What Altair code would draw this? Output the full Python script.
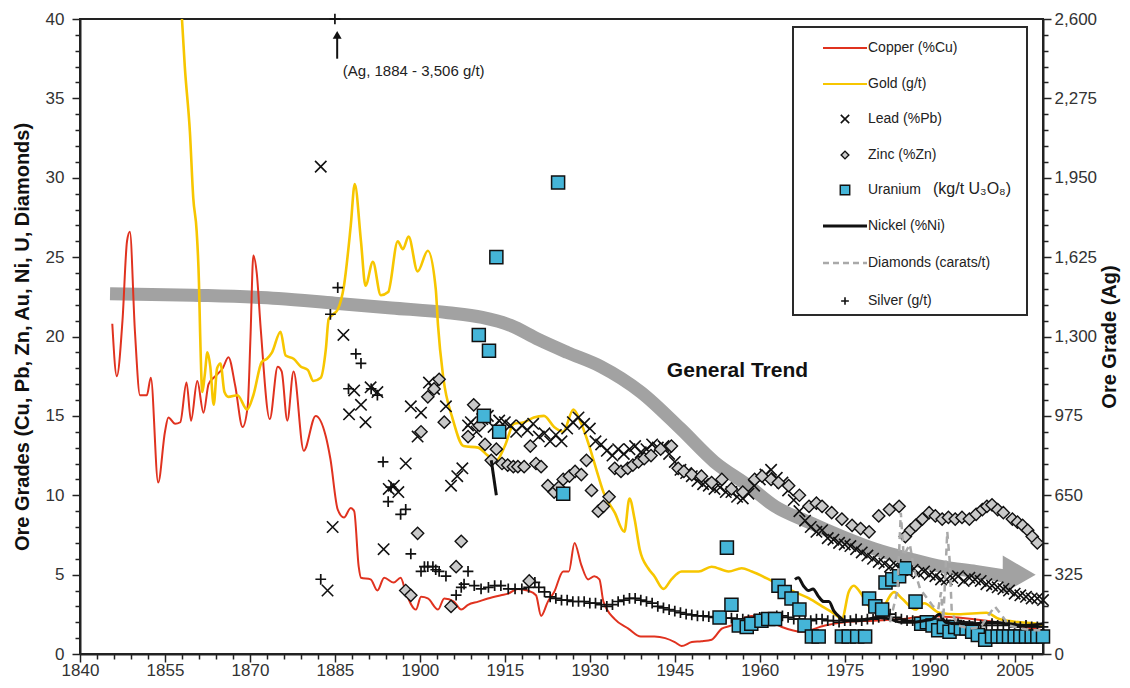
import altair as alt
import pandas as pd

# ---------------- data ----------------
copper_year = [1845.7, 1846.5, 1847.5, 1848.3, 1848.8, 1849.7, 1850.6, 1851.8, 1852.5, 1853.8,
               1855.0, 1855.6, 1856.8, 1857.7, 1858.8, 1859.6, 1860.7, 1861.8, 1862.7, 1863.9,
               1865.2, 1866.2, 1867.4, 1868.7, 1869.6, 1870.1, 1870.6, 1871.2, 1871.9, 1873.5,
               1874.9, 1875.6, 1876.6, 1877.7, 1879.5, 1881.6, 1883.4, 1884.2, 1885.5, 1886.6,
               1887.8, 1888.4, 1889.2, 1889.6, 1891.3, 1892.5, 1893.7, 1895.4, 1896.6, 1897.5,
               1899.3, 1900.2, 1901.4, 1903.2, 1904.3, 1906.0, 1907.3, 1908.5, 1910.3, 1912.0,
               1914.3, 1915.6, 1917.3, 1919.0, 1920.5, 1921.4, 1922.6, 1923.7, 1925.3, 1926.3,
               1927.3, 1928.5, 1929.7, 1930.8, 1931.7, 1932.4, 1934.4, 1936.8, 1939.0, 1941.4,
               1943.3, 1945.0, 1946.2, 1948.0, 1949.7, 1951.5, 1953.3, 1955.0, 1956.8, 1958.6,
               1961.0, 1963.9, 1967.4, 1971.5, 1975.0, 1980.0, 1985.0, 1990.0, 1995.0, 2000.0,
               2005.0, 2010.0]
copper_pct = [20.8, 17.5, 21.0, 26.0, 26.6, 20.3, 16.3, 16.3, 17.4, 10.8,
              14.0, 14.9, 14.5, 14.6, 17.1, 14.7, 17.2, 15.2, 17.0, 17.5,
              18.0, 18.7, 16.9, 14.3, 15.6, 20.0, 25.1, 24.0, 20.5, 14.8,
              18.1, 17.8, 14.7, 17.8, 12.8, 15.0, 13.7, 12.3, 9.1, 8.6,
              9.2, 9.0, 5.5, 4.8, 4.7, 4.0, 4.8, 4.5, 4.8, 3.9,
              2.8, 3.6, 3.5, 2.8, 3.5, 3.3, 2.8, 3.1, 3.3, 3.5,
              3.7, 3.8, 4.1, 4.0, 3.7, 2.4, 3.3, 3.9, 5.2, 5.2,
              7.0, 5.6, 4.7, 4.9, 4.7, 3.3, 2.2, 1.6, 1.1, 1.1,
              1.0, 0.75, 0.5, 0.75, 0.8, 0.9, 1.6, 1.8, 2.2, 2.4,
              2.2, 1.7, 1.4, 1.8, 2.0, 2.1, 2.2, 2.4, 2.3, 2.1,
              1.8, 1.5]

gold_year = [1858.0, 1858.5, 1859.4, 1860.0, 1860.6, 1861.0, 1861.2, 1861.6, 1862.0, 1862.5,
             1863.0, 1863.6, 1864.2, 1864.8, 1865.5, 1866.2, 1867.8, 1869.5, 1870.6, 1872.1,
             1873.0, 1873.9, 1875.4, 1876.3, 1877.7, 1879.0, 1880.2, 1881.2, 1882.5, 1883.4,
             1883.9, 1885.5, 1886.6, 1887.8, 1888.5, 1889.6, 1890.4, 1891.7, 1893.1, 1894.4,
             1896.1, 1897.0, 1898.0, 1899.6, 1901.4, 1902.8, 1903.2, 1904.1, 1905.8, 1907.7,
             1910.3, 1912.0, 1913.5, 1915.0, 1916.6, 1918.4, 1920.1, 1921.9, 1923.7, 1925.3,
             1927.1, 1928.5, 1929.9, 1931.5, 1932.4, 1934.4, 1936.1, 1937.0, 1937.9, 1938.8,
             1940.3, 1941.4, 1943.0, 1944.4, 1946.2, 1949.2, 1951.5, 1954.5, 1956.8, 1958.6,
             1962.7, 1966.2, 1968.7, 1971.0, 1973.3, 1974.5, 1975.7, 1976.6, 1977.7, 1979.3,
             1981.0, 1983.7, 1985.1, 1987.5, 1989.0, 1991.7, 1995.0, 2000.0, 2002.3, 2006.0,
             2009.0, 2010.0]
gold_gt = [40.0, 37.0, 32.9, 28.7, 26.6, 23.4, 20.3, 16.5, 17.5, 19.0,
           18.1, 15.7, 18.0, 18.3, 16.5, 16.2, 16.3, 15.4, 16.3, 18.4,
           18.6, 19.0, 20.3, 18.8, 18.6, 18.1, 17.9, 17.2, 17.4, 19.2,
           21.1, 21.7, 23.2, 27.0, 29.6, 26.0, 23.2, 24.7, 22.6, 22.8,
           26.0, 25.5, 26.3, 24.1, 25.4, 23.0, 20.7, 17.5, 14.8, 13.1,
           13.0, 12.5, 12.2, 13.1, 14.5, 14.6, 14.9, 15.0, 14.3, 14.0,
           15.4, 14.5, 13.1, 11.2, 10.2, 8.9, 7.7, 9.8, 8.5, 6.6,
           5.4, 4.9, 4.1, 4.7, 5.2, 5.2, 5.5, 5.2, 5.4, 5.2,
           4.5, 3.9, 3.5, 3.0, 2.5, 2.2, 3.9, 4.3, 3.9, 3.0,
           2.6, 3.9, 3.5, 2.8, 3.2, 2.6, 2.5, 2.6, 2.2, 2.0,
           1.9, 1.8]

lead_year = [1882.5, 1883.7, 1884.6, 1886.5, 1887.5, 1888.4, 1889.6, 1890.4, 1891.3, 1892.5,
             1893.6, 1894.5, 1895.4, 1896.2, 1897.5, 1898.4, 1899.6, 1900.2, 1901.6, 1902.5,
             1904.6, 1905.5, 1906.6, 1907.5, 1908.5,
             1909, 1910, 1911, 1912, 1913, 1914, 1915, 1916, 1917, 1918, 1919, 1920,
             1921, 1922, 1923, 1924, 1925, 1926, 1927, 1928, 1929, 1930, 1931, 1932,
             1933, 1934, 1935, 1936, 1937, 1938, 1939, 1940, 1941, 1942, 1943, 1944,
             1945, 1946, 1947, 1948, 1949, 1950, 1951, 1952, 1953, 1954, 1955, 1956,
             1957, 1958, 1959, 1960, 1961, 1962, 1963, 1964, 1965, 1966, 1967, 1968,
             1969, 1970, 1971, 1972, 1973, 1974, 1975, 1976, 1977, 1978, 1979, 1980,
             1981, 1982, 1983, 1984, 1985, 1986, 1987, 1988, 1989, 1990, 1991, 1992,
             1993, 1994, 1995, 1996, 1997, 1998, 1999, 2000, 2001, 2002, 2003, 2004,
             2005, 2006, 2007, 2008, 2009, 2010]
lead_pct = [30.7, 4.0, 8.0, 20.1, 15.1, 16.6, 15.7, 14.6, 16.8, 16.5,
            6.6, 10.4, 10.6, 10.2, 12.0, 15.6, 13.7, 15.2, 17.1, 16.7,
            15.6, 10.6, 11.2, 11.7, 14.4,
            14.6, 14.0, 14.8, 15.0, 14.3, 14.7, 14.6, 14.4, 14.0, 14.4, 14.1, 14.5,
            13.7, 13.9, 13.4, 13.8, 13.4, 14.2, 14.6, 14.9, 14.5, 14.2, 13.4, 13.2,
            12.8, 12.5, 12.9, 12.6, 12.9, 13.1, 12.7, 12.9, 13.2, 13.0, 13.1, 12.6,
            12.1, 11.6, 11.4, 11.2, 10.9, 10.7, 10.6, 10.4, 10.5, 10.2, 10.2, 9.9,
            9.8, 10.1, 10.6, 11.0, 11.3, 11.6, 11.1, 10.8, 10.3, 9.7, 9.0, 8.4,
            8.0, 7.7, 7.8, 7.3, 7.2, 7.0, 6.9, 6.8, 6.6, 6.4, 6.2, 6.0,
            5.8, 5.7, 5.5, 5.6, 5.3, 5.2, 5.3, 5.1, 5.2, 5.0, 4.9, 4.7,
            4.7, 4.8, 4.9, 4.6, 4.8, 4.7, 4.6, 4.4, 4.3, 4.2, 4.1, 4.0,
            3.8, 3.7, 3.6, 3.5, 3.5, 3.4]

zinc_year = [1897.5, 1898.4, 1899.6, 1900.2, 1901.4, 1902.5, 1903.4, 1904.3, 1905.5, 1906.4,
             1907.3, 1908.5, 1909.5, 1910.5, 1911.5, 1912.6, 1913.5, 1914.5, 1915.5, 1916.5,
             1917.3, 1918.4, 1919.3, 1919.5, 1920.5, 1921.4, 1922.6, 1923.7, 1924.5, 1925.3,
             1926.4, 1927.4, 1928.5, 1929.4, 1930.3, 1931.5, 1932.4, 1933.4, 1934.4, 1935.5,
             1936.7, 1937.6, 1938.6, 1939.6, 1940.8, 1942.5, 1944.4, 1945.6, 1946.6, 1948.0,
             1949.7, 1951.5, 1953.3, 1955.0, 1957.0, 1959.1, 1960.4, 1962.0, 1963.3, 1965.1,
             1967.0, 1968.7, 1970.0, 1971.0, 1972.7, 1974.5, 1976.3, 1977.8, 1979.3, 1981.0,
             1982.9, 1984.6, 1985.7, 1986.6, 1987.5, 1988.7, 1989.9, 1991.0, 1992.2, 1993.3,
             1994.5, 1995.7, 1997.0, 1998.2, 1999.3, 2000.1, 2001.0, 2002.0, 2003.0, 2004.6,
             2005.5, 2006.4, 2007.3, 2008.1, 2009.0]
zinc_pct = [4.0, 3.7, 7.6, 14.0, 16.2, 16.7, 17.3, 14.6, 3.0, 5.5,
            7.1, 13.7, 15.7, 14.4, 13.2, 12.2, 12.9, 12.0, 11.9, 11.8,
            11.8, 11.8, 4.6, 13.1, 12.0, 11.8, 10.6, 10.2, 10.5, 11.0,
            11.2, 11.5, 11.3, 12.2, 10.3, 9.0, 9.3, 9.9, 11.7, 11.5,
            11.7, 11.9, 12.1, 12.3, 12.5, 12.9, 13.1, 11.7, 11.5, 11.3,
            11.2, 10.8, 11.0, 10.4, 10.2, 11.0, 11.2, 11.0, 10.8, 10.6,
            10.0, 9.3, 9.5, 9.3, 8.9, 8.5, 8.1, 7.9, 7.7, 8.7,
            9.1, 9.3, 7.4, 7.8, 8.1, 8.5, 8.9, 8.7, 8.5, 8.6,
            8.5, 8.6, 8.5, 8.8, 9.1, 9.3, 9.4, 9.1, 8.9, 8.5,
            8.3, 8.1, 7.8, 7.4, 7.0]

uranium_year = [1910.4, 1911.3, 1912.2, 1913.5, 1914.0, 1924.4, 1925.3, 1952.9, 1954.2, 1955.0,
                1956.3, 1957.7, 1958.5, 1960.3, 1961.5, 1962.7, 1963.3, 1964.4, 1965.6, 1967.0,
                1967.9, 1969.2, 1970.4, 1974.5, 1975.7, 1977.2, 1978.6, 1979.3, 1980.4, 1981.6,
                1982.2, 1983.4, 1984.6, 1985.7, 1987.5, 1988.5, 1989.5, 1990.5, 1991.5, 1992.5,
                1993.5, 1994.5, 1995.5, 1996.5, 1997.5, 1998.5, 1999.8, 2001.0, 2002.0, 2003.0,
                2004.0, 2005.0, 2006.0, 2007.0, 2008.0, 2009.0, 2010.0]
uranium_kgt = [20.1, 15.0, 19.1, 25.0, 14.0, 29.7, 10.1, 2.3, 6.7, 3.1,
               1.8, 1.7, 1.9, 2.1, 2.2, 2.2, 4.3, 3.9, 3.5, 2.8,
               1.8, 1.1, 1.1, 1.1, 1.1, 1.1, 1.1, 3.5, 3.0, 2.8,
               4.5, 4.7, 4.9, 5.4, 3.3, 1.9, 2.0, 1.8, 1.5, 1.7,
               1.4, 1.7, 1.6, 1.6, 1.4, 1.2, 0.9, 1.1, 1.1, 1.1,
               1.1, 1.1, 1.1, 1.1, 1.1, 1.1, 1.1]

nickel_year = [1912.6, 1913.5,
               1966.2, 1966.8, 1967.7, 1968.6, 1969.4, 1970.4, 1971.3, 1972.2, 1973.1, 1974.2,
               1975.0, 1977.0, 1979.0, 1981.0, 1983.0, 1985.0, 1987.0, 1989.0, 1990.5, 1991.7,
               1992.8, 1995.0, 1998.0, 2001.0, 2004.0, 2007.0, 2010.0]
nickel_pct = [12.2, 10.0,
              4.7, 4.8, 4.3, 4.0, 4.1, 3.6, 3.3, 3.3, 2.7, 2.3,
              2.1, 2.1, 2.2, 2.3, 2.2, 2.0, 2.0, 2.1, 2.2, 2.5,
              2.0, 1.9, 1.9, 2.0, 1.9, 1.8, 1.9]
nickel_run = ["a", "a"] + ["b"] * 27

diamond_year = [1983.0, 1984.3, 1984.9, 1985.4, 1986.5, 1987.2, 1988.3, 1990.6, 1991.5, 1992.0,
                1992.4, 1993.1, 1993.5, 1993.9, 1995.0, 1997.0, 1999.0, 2000.5, 2001.5, 2002.8,
                2004.0, 2006.0, 2008.0, 2010.0]
diamond_ct = [2.0, 4.0, 8.9, 6.2, 6.9, 5.4, 4.1, 3.0, 2.8, 3.9,
              2.2, 7.7, 6.0, 2.6, 1.8, 1.6, 1.7, 2.5, 3.0, 2.4,
              1.8, 1.6, 1.5, 1.5]

silver_year = [1882.5, 1884.2, 1885.0, 1885.5, 1887.4, 1888.7, 1889.6, 1891.4, 1892.5, 1893.5,
               1894.4, 1894.9, 1896.6, 1897.5, 1898.4, 1900.2, 1900.8, 1901.4, 1902.3, 1902.8,
               1903.4, 1904.6, 1906.4, 1907.3, 1907.8, 1908.5, 1909.6, 1910.8, 1912.1, 1913.2,
               1914.3, 1915.6, 1916.8, 1918.0, 1919.2, 1920.3,
               1921, 1922, 1923, 1924, 1925, 1926, 1927, 1928, 1929, 1930, 1931, 1932,
               1933, 1934, 1935, 1936, 1937, 1938, 1939, 1940, 1941, 1942, 1943, 1944,
               1945, 1946, 1947, 1948, 1949, 1950, 1951, 1952, 1953, 1954, 1955, 1956,
               1957, 1958, 1959, 1960, 1961, 1962, 1963, 1964, 1965, 1966, 1967, 1968,
               1969, 1970, 1971, 1972, 1973, 1974, 1975, 1976, 1977, 1978, 1979, 1980,
               1981, 1982, 1983, 1984, 1985, 1986, 1987, 1988, 1989, 1990, 1991, 1992,
               1993, 1994, 1995, 1996, 1997, 1998, 1999, 2000, 2001, 2002, 2003, 2004,
               2005, 2006, 2007, 2008, 2009, 2010]
silver_gt = [306, 1391, 3506, 1500, 1086, 1229, 1190, 1086, 1060, 787,
             624, 683, 572, 592, 410, 338, 358, 358, 358, 345,
             338, 319, 241, 273, 286, 338, 280, 267, 273, 280,
             280, 267, 267, 267, 273, 293,
             273, 254, 234, 228, 221, 221, 215, 215, 215, 208, 208, 202,
             195, 202, 215, 221, 228, 228, 221, 215, 208, 195, 189, 182,
             176, 169, 163, 160, 156, 156, 153, 150, 150, 147, 147, 143,
             143, 140, 143, 150, 150, 150, 156, 156, 150, 143, 143, 137,
             137, 143, 143, 137, 137, 130, 137, 137, 143, 137, 143, 143,
             150, 156, 163, 150, 143, 137, 137, 130, 130, 124, 124, 130,
             124, 117, 124, 117, 117, 124, 117, 117, 124, 117, 124, 117,
             111, 111, 117, 111, 111, 111]

trend_year = [1845.3, 1860, 1875, 1885, 1895, 1905, 1911, 1916, 1921, 1926,
              1932, 1939, 1946, 1952, 1958, 1962.7, 1968.7, 1974.5, 1980.4, 1986.4,
              1992.2, 1998.1, 2003.5]
trend_val = [22.7, 22.6, 22.4, 22.1, 21.8, 21.5, 21.2, 20.7, 19.8, 19.0,
             18.1, 16.5, 14.2, 12.1, 10.6, 9.3, 8.3, 7.4, 6.6, 6.0,
             5.5, 5.2, 4.9]
trend_head = (2005.8, 5.0)

trend_label = ("General Trend", 1943.6, 17.8)
ag_note = ("(Ag, 1884 - 3,506 g/t)", 1886.4, 36.7)
ag_arrow = (1885.4, 37.5, 39.0)

legend_labels = ["Copper (%Cu)", "Gold (g/t)", "Lead (%Pb)", "Zinc (%Zn)",
                 "Uranium", "Nickel (%Ni)", "Diamonds (carats/t)", "Silver (g/t)"]
uranium_unit = "(kg/t U\u2083O\u2088)"

x_ticks = list(range(1840, 2011, 3))
left_ticks = list(range(0, 41))
right_ticks = list(range(0, 2601, 65))

# ---------------- styling ----------------
FONT = "Liberation Sans"
INK = "#222222"
RED = "#e0321f"
YELLOW = "#f7c600"
CYAN = "#45b5d8"
ZINC_FILL = "#c9c9c9"
TREND = "#a2a2a2"
DIAM = "#a9a9a9"
XSHAPE = "M-1,-1L1,1M-1,1L1,-1"
PSHAPE = "M-1,0L1,0M0,-1L0,1"


def frame(xs, ys, **extra):
    d = pd.DataFrame({"year": xs, "v": ys})
    for k, val in extra.items():
        d[k] = val
    return d


axis_common = dict(labelFont=FONT, labelFontSize=17, labelColor="#333333",
                   domainColor=INK, domainWidth=2, tickColor=INK, tickWidth=1.5,
                   grid=False, labelOverlap=False, labelFlush=False,
                   titleFont=FONT, titleFontSize=20, titleFontWeight="bold", titleColor="#111111")

x_axis = alt.Axis(values=x_ticks, format="d", title="",
                  labelExpr="(datum.value - 1840) % 15 === 0 ? datum.label : ''",
                  tickSize={"condition": {"test": "(datum.value - 1840) % 15 === 0", "value": 8}, "value": 5},
                  labelPadding=0, **axis_common)
X = alt.X("year:Q", scale=alt.Scale(domain=[1840, 2010], nice=False, zero=False), axis=x_axis)

left_axis = alt.Axis(values=left_ticks, format="d", orient="left",
                     title="Ore Grades (Cu, Pb, Zn, Au, Ni, U, Diamonds)",
                     labelExpr="datum.value % 5 === 0 ? datum.label : ''",
                     tickSize={"condition": {"test": "datum.value % 5 === 0", "value": 8}, "value": 5},
                     labelPadding=8, titlePadding=13, **axis_common)
YL = alt.Y("v:Q", scale=alt.Scale(domain=[0, 40], nice=False), axis=left_axis)
YL_hidden = alt.Y("v:Q", scale=alt.Scale(domain=[0, 40], nice=False), axis=None)

right_axis = alt.Axis(values=right_ticks, format=",d", orient="right",
                      title="Ore Grade (Ag)", titleAngle=270, titleBaseline="top",
                      labelExpr="datum.value % 325 === 0 ? datum.label : ''",
                      tickSize={"condition": {"test": "datum.value % 325 === 0", "value": 8}, "value": 5},
                      labelPadding=3, titlePadding=3, **axis_common)

# ---------------- group A: trend arrow + lines (left units, no axis) ----------------
trend = alt.Chart(frame(trend_year, trend_val)).mark_line(
    color=TREND, strokeWidth=13, interpolate="monotone", strokeCap="butt"
).encode(x=X, y=YL_hidden)
trend_tip = alt.Chart(frame([trend_head[0]], [trend_head[1]])).mark_point(
    shape="triangle-right", filled=True, color=TREND, opacity=1, size=1450
).encode(x=X, y=YL_hidden)
copper = alt.Chart(frame(copper_year, copper_pct)).mark_line(
    color=RED, strokeWidth=2, interpolate="monotone"
).encode(x=X, y=YL_hidden)
gold = alt.Chart(frame(gold_year, gold_gt)).mark_line(
    color=YELLOW, strokeWidth=2.6, interpolate="monotone"
).encode(x=X, y=YL_hidden)
group_a = alt.layer(trend, trend_tip, copper, gold)

# ---------------- group B: silver on the right axis ----------------
silver = alt.Chart(pd.DataFrame({"year": silver_year, "ag": silver_gt})).transform_calculate(
    agp="min(datum.ag, 2600)"
).mark_point(shape=PSHAPE, filled=False, stroke="#111111", strokeWidth=1.7, size=115, opacity=1).encode(
    x=X, y=alt.Y("agp:Q", scale=alt.Scale(domain=[0, 2600], nice=False), axis=right_axis)
)
group_b = alt.layer(silver)

# ---------------- group C: markers, nickel, diamonds, texts, legend (left axis) ----------------
lead = alt.Chart(frame(lead_year, lead_pct)).mark_point(
    shape=XSHAPE, filled=False, stroke="#111111", strokeWidth=1.6, size=130, opacity=1
).encode(x=X, y=YL)
zinc = alt.Chart(frame(zinc_year, zinc_pct)).mark_point(
    shape="diamond", filled=True, fill=ZINC_FILL, stroke="#111111", strokeWidth=1.4, size=150, opacity=1
).encode(x=X, y=YL)
uranium = alt.Chart(frame(uranium_year, uranium_kgt)).mark_point(
    shape="square", filled=True, fill=CYAN, stroke="#111111", strokeWidth=1.5, size=170, opacity=1
).encode(x=X, y=YL)
nickel = alt.Chart(frame(nickel_year, nickel_pct, run=nickel_run)).mark_line(
    color="#111111", strokeWidth=3, interpolate="monotone"
).encode(x=X, y=YL, detail="run:N")
diamonds = alt.Chart(frame(diamond_year, diamond_ct)).mark_line(
    color=DIAM, strokeWidth=2.5, strokeDash=[7, 5]
).encode(x=X, y=YL)

trend_text = alt.Chart(frame([trend_label[1]], [trend_label[2]], t=trend_label[0])).mark_text(
    font=FONT, fontSize=21, fontWeight="bold", align="left", baseline="middle", color="#111111"
).encode(x=X, y=YL, text="t:N")
note_text = alt.Chart(frame([ag_note[1]], [ag_note[2]], t=ag_note[0])).mark_text(
    font=FONT, fontSize=15, align="left", baseline="middle", color="#222222"
).encode(x=X, y=YL, text="t:N")
note_arrow = alt.Chart(pd.DataFrame({"year": [ag_arrow[0]], "v": [ag_arrow[1]], "v2": [ag_arrow[2]]})).mark_rule(
    color="#111111", strokeWidth=2
).encode(x=X, y=YL, y2="v2:Q")
note_head = alt.Chart(frame([ag_arrow[0]], [ag_arrow[2]])).mark_point(
    shape="triangle-up", filled=True, color="#111111", opacity=1, size=80
).encode(x=X, y=YL)

# legend (layout in pixels inside the plot area)
one = pd.DataFrame({"k": [0]})
rows = [29, 65, 100, 136, 171, 207, 244, 282]
LX_LINE0, LX_LINE1, LX_SYM, LX_TEXT = 743, 787, 765, 788

legend_layers = [
    alt.Chart(one).mark_rect(fill="white", stroke="#2a2a2a", strokeWidth=2).encode(
        x=alt.value(713), x2=alt.value(947), y=alt.value(8), y2=alt.value(296))
]
line_styles = {0: dict(color=RED, strokeWidth=2), 1: dict(color=YELLOW, strokeWidth=2),
               5: dict(color="#111111", strokeWidth=3),
               6: dict(color=DIAM, strokeWidth=2.5, strokeDash=[6, 4])}
for i, st in line_styles.items():
    legend_layers.append(alt.Chart(one).mark_rule(**st).encode(
        x=alt.value(LX_LINE0), x2=alt.value(LX_LINE1), y=alt.value(rows[i])))
sym_styles = {2: dict(shape=XSHAPE, filled=False, stroke="#111111", strokeWidth=1.6, size=70),
              3: dict(shape="diamond", filled=True, fill=ZINC_FILL, stroke="#111111", strokeWidth=1.4, size=60),
              4: dict(shape="square", filled=True, fill=CYAN, stroke="#111111", strokeWidth=1.4, size=90),
              7: dict(shape=PSHAPE, filled=False, stroke="#111111", strokeWidth=1.6, size=60)}
for i, st in sym_styles.items():
    legend_layers.append(alt.Chart(one).mark_point(opacity=1, **st).encode(
        x=alt.value(LX_SYM), y=alt.value(rows[i])))
for i, lab in enumerate(legend_labels):
    legend_layers.append(alt.Chart(one).mark_text(
        text=lab, font=FONT, fontSize=14, align="left", baseline="middle", color="#222222"
    ).encode(x=alt.value(LX_TEXT), y=alt.value(rows[i])))
legend_layers.append(alt.Chart(one).mark_text(
    text=uranium_unit, font=FONT, fontSize=16, align="left", baseline="middle", color="#222222"
).encode(x=alt.value(853), y=alt.value(rows[4] - 1)))

group_c = alt.layer(lead, zinc, uranium, nickel, diamonds, trend_text, note_text,
                    note_arrow, note_head, *legend_layers)

chart = alt.layer(group_a, group_b, group_c).resolve_scale(y="independent").properties(
    width=963, height=635,
    autosize=alt.AutoSizeParams(type="none"),
    padding={"left": 72, "top": 11, "right": 79, "bottom": 26},
).configure_view(stroke=INK, strokeWidth=2)

chart.save("out.html", embed_options={"renderer": "svg", "actions": False})
